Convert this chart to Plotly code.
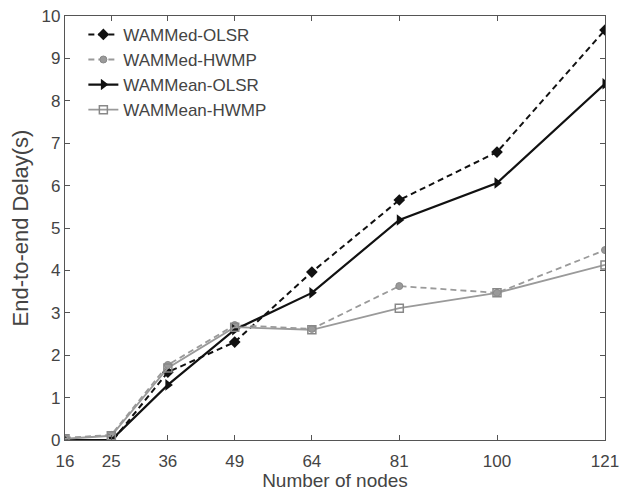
import plotly.graph_objects as go

nodes = [16, 25, 36, 49, 64, 81, 100, 121]
wammed_olsr = [0.0, -0.05, 1.6, 2.31, 3.96, 5.66, 6.79, 9.67]
wammed_hwmp = [0.05, 0.12, 1.77, 2.71, 2.62, 3.63, 3.47, 4.48]
wammean_olsr = [0.0, 0.0, 1.3, 2.6, 3.47, 5.19, 6.06, 8.4]
wammean_hwmp = [0.03, 0.1, 1.7, 2.66, 2.6, 3.11, 3.47, 4.13]
yticks = list(range(0, 11))

BLACK = "#111111"
GRAY = "#9a9a9a"

fig = go.Figure()
fig.add_trace(go.Scatter(x=nodes, y=wammed_olsr, name="WAMMed-OLSR", mode="lines+markers",
                         line=dict(color=BLACK, width=2, dash="6px,4px"),
                         marker=dict(symbol="diamond", size=9, color=BLACK)))
fig.add_trace(go.Scatter(x=nodes, y=wammed_hwmp, name="WAMMed-HWMP", mode="lines+markers",
                         line=dict(color=GRAY, width=1.8, dash="6px,4px"),
                         marker=dict(symbol="circle", size=7, color=GRAY,
                                     line=dict(color="#888888", width=1))))
fig.add_trace(go.Scatter(x=nodes, y=wammean_olsr, name="WAMMean-OLSR", mode="lines+markers",
                         line=dict(color=BLACK, width=2.2),
                         marker=dict(symbol="triangle-right", size=10, color=BLACK)))
fig.add_trace(go.Scatter(x=nodes, y=wammean_hwmp, name="WAMMean-HWMP", mode="lines+markers",
                         line=dict(color=GRAY, width=1.8),
                         marker=dict(symbol="square-open", size=8, color="#888888",
                                     line=dict(width=1.5))))

axis_common = dict(showgrid=False, zeroline=False, showline=True, linecolor="#555555",
                   linewidth=1.2, mirror="allticks", ticks="inside", ticklen=5,
                   tickcolor="#555555", tickfont=dict(size=17, color="#444444"),
                   automargin=False)

fig.update_layout(
    width=622, height=492,
    margin=dict(l=65, r=17, t=16, b=52),
    paper_bgcolor="white", plot_bgcolor="white",
    font=dict(family="Liberation Sans, Arial, sans-serif", color="#444444"),
    showlegend=True,
    legend=dict(x=0.034, y=0.998, xanchor="left", yanchor="top",
                bgcolor="rgba(255,255,255,0)", borderwidth=0,
                font=dict(size=17, color="#444444"), tracegroupgap=0),
    xaxis=dict(range=[16, 121], tickvals=nodes, ticktext=[str(n) for n in nodes],
               ticklabelstandoff=5,
               title=dict(text="Number of nodes", font=dict(size=19, color="#444444"), standoff=4),
               **axis_common),
    yaxis=dict(range=[0, 10], tickvals=yticks,
               title=dict(text="End-to-end Delay(s)", font=dict(size=22, color="#444444"), standoff=6),
               **axis_common),
)

fig.write_html("out.html")
